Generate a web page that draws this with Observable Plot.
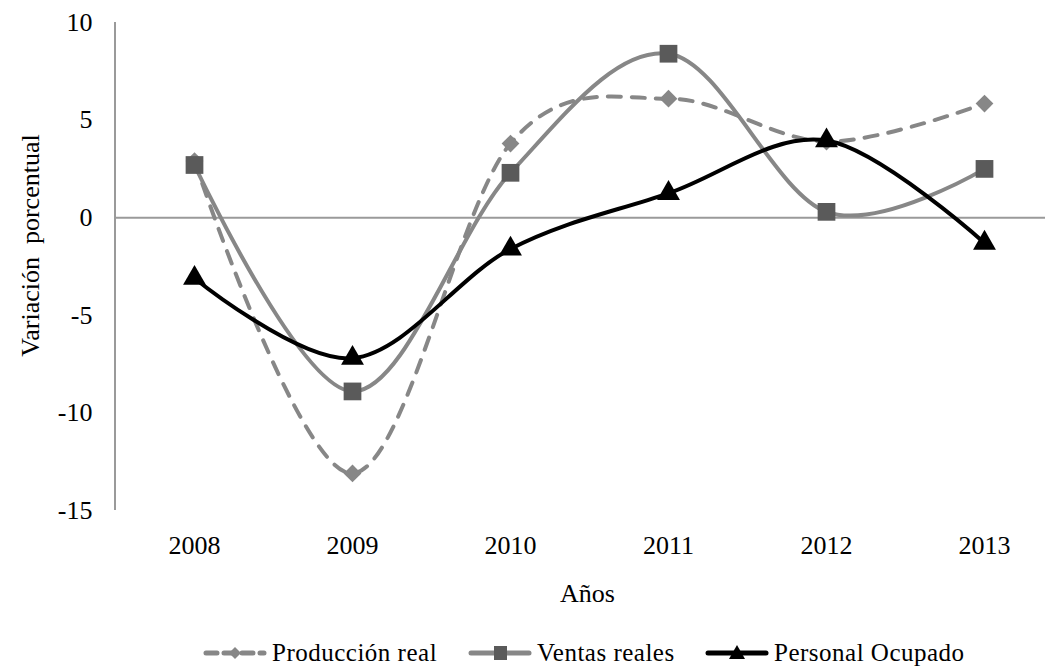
<!DOCTYPE html>
<html>
<head>
<meta charset="utf-8">
<script src="https://cdn.jsdelivr.net/npm/d3@7"></script>
<script src="https://cdn.jsdelivr.net/npm/@observablehq/plot@0.6"></script>
<style>
  body { margin: 0; background: #fff; font-family: "Liberation Serif", "Times New Roman", serif; }
  #wrap { position: relative; width: 1052px; height: 666px; }
  #chart svg text { font-family: "Liberation Serif", "Times New Roman", serif; }
  #legend { position: absolute; left: 0; top: 637px; width: 1052px; height: 32px; font-size: 25px; color: #000; font-family: "Liberation Serif", "Times New Roman", serif; letter-spacing: 0.5px; }
  .item { position: absolute; top: 0; height: 32px; display: flex; align-items: center; white-space: nowrap; }
  .item svg { margin-right: 5px; }
</style>
</head>
<body>
<div id="wrap">
  <div id="chart"></div>
  <div id="legend"></div>
</div>
<script>
const years = ["2008", "2009", "2010", "2011", "2012", "2013"];
const produccion = [2.9, -13.1, 3.8, 6.1, 3.9, 5.85];
const ventas = [2.7, -8.9, 2.3, 8.4, 0.3, 2.5];
const personal = [-3.1, -7.2, -1.6, 1.25, 3.95, -1.3];
const seriesNames = ["Producción real", "Ventas reales", "Personal Ocupado"];
const yTicks = [-15, -10, -5, 0, 5, 10];

const toRows = (vals) => years.map((y, i) => ({year: y, value: vals[i]}));
const dProd = toRows(produccion);
const dVent = toRows(ventas);
const dPers = toRows(personal);

const gray = "#878787";
const dark = "#5a5a5a";
const font = "'Liberation Serif', 'Times New Roman', serif";

const axisLine = (index, scales, values, dims) => {
  const l = document.createElementNS("http://www.w3.org/2000/svg", "line");
  l.setAttribute("x1", dims.marginLeft);
  l.setAttribute("x2", dims.marginLeft);
  l.setAttribute("y1", dims.marginTop);
  l.setAttribute("y2", dims.height - dims.marginBottom);
  l.setAttribute("stroke", "#9a9a9a");
  l.setAttribute("stroke-width", 2);
  return l;
};

const chart = Plot.plot({
  width: 1052,
  height: 620,
  marginTop: 22,
  marginBottom: 110,
  marginLeft: 115,
  marginRight: 7,
  style: {fontFamily: font, fontSize: "26px", color: "#000", background: "#fff"},
  x: {type: "point", domain: years, range: [193, 984], padding: 0},
  y: {domain: [-15, 10], ticks: yTicks},
  marks: [
    Plot.ruleY([0], {stroke: "#9a9a9a", strokeWidth: 2}),
    axisLine,
    Plot.axisY({ticks: yTicks, tickSize: 0, tickPadding: 23, fontSize: 26, fontFamily: font, label: null, tickFormat: (d) => String(d)}),
    Plot.axisX({tickSize: 0, tickPadding: 25, fontSize: 26, fontFamily: font, label: null}),
    Plot.text(["Variación  porcentual"], {frameAnchor: "left", textAnchor: "middle", lineAnchor: "middle", dx: -85, dy: -21, rotate: -90, fontSize: 26, fontFamily: font, fill: "#000"}),
    Plot.text(["Años"], {frameAnchor: "bottom", textAnchor: "middle", lineAnchor: "middle", dx: 7, dy: 83, fontSize: 26, fontFamily: font, fill: "#000"}),
    Plot.line(dProd, {x: "year", y: "value", stroke: gray, strokeWidth: 4, strokeDasharray: "13,11", strokeLinecap: "round", curve: "cardinal", tension: 0}),
    Plot.dot(dProd, {x: "year", y: "value", symbol: "diamond2", r: 8, fill: gray, stroke: null}),
    Plot.line(dVent, {x: "year", y: "value", stroke: gray, strokeWidth: 4, curve: "cardinal", tension: 0}),
    Plot.dot(dVent, {x: "year", y: "value", symbol: "square", r: 10, fill: dark, stroke: null}),
    Plot.line(dPers, {x: "year", y: "value", stroke: "#000", strokeWidth: 4, curve: "cardinal", tension: 0}),
    Plot.dot(dPers, {x: "year", y: "value", symbol: "triangle", r: 8.5, fill: "#000", stroke: null})
  ]
});
document.getElementById("chart").appendChild(chart);

// Legend
const legend = document.getElementById("legend");
const legendLeft = [203, 468, 705];
const swatches = [
  {stroke: gray, dash: "11,7", marker: "diamond", fill: gray},
  {stroke: gray, dash: null, marker: "square", fill: dark},
  {stroke: "#000", dash: null, marker: "triangle", fill: "#000"}
];
seriesNames.forEach((name, i) => {
  const s = swatches[i];
  const item = document.createElement("div");
  item.className = "item";
  item.style.left = legendLeft[i] + "px";
  let m = "";
  if (s.marker === "diamond") m = `<path d="M32,10 L38,16 L32,22 L26,16 Z" fill="${s.fill}"/>`;
  if (s.marker === "square") m = `<rect x="26" y="9" width="13" height="14" fill="${s.fill}"/>`;
  if (s.marker === "triangle") m = `<path d="M32,8 L40,22 L24,22 Z" fill="${s.fill}"/>`;
  item.innerHTML = `<svg width="64" height="32"><line x1="3" x2="61" y1="16" y2="16" stroke="${s.stroke}" stroke-width="5" stroke-linecap="round" ${s.dash ? `stroke-dasharray="${s.dash}"` : ""}/>${m}</svg><span>${name}</span>`;
  legend.appendChild(item);
});
</script>
</body>
</html>
